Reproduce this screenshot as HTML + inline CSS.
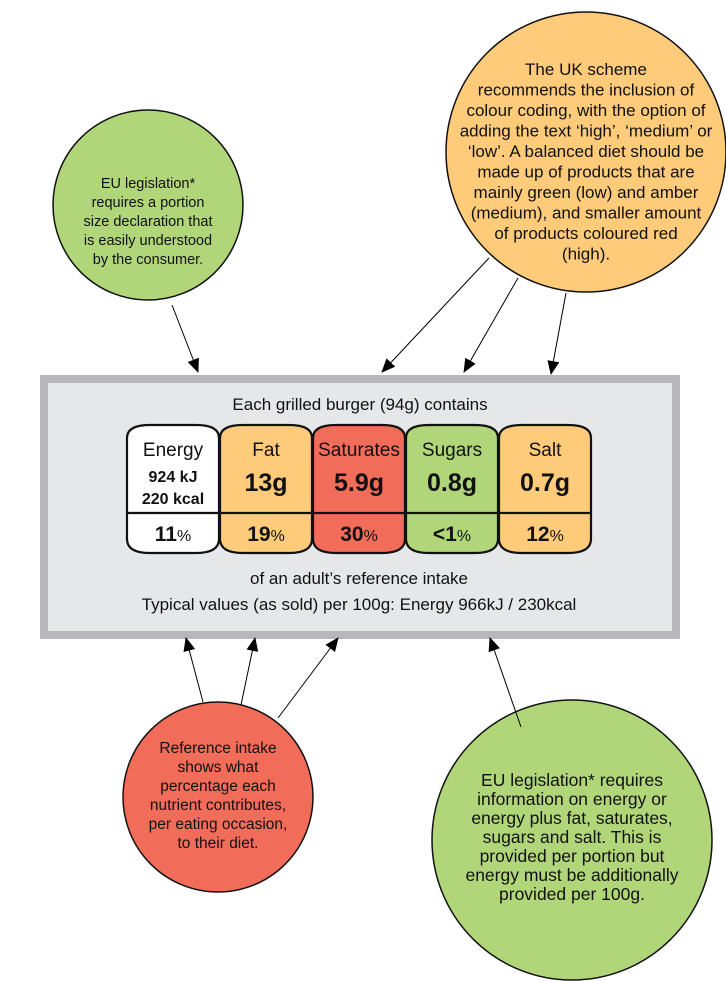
<!DOCTYPE html>
<html><head><meta charset="utf-8"><style>
body{margin:0;background:#fff;width:726px;height:981px;overflow:hidden}
svg{display:block}
.c{font-family:"Liberation Sans",sans-serif;font-size:14.5px;fill:#111;text-anchor:middle}
.l{font-family:"Liberation Sans",sans-serif;fill:#111;text-anchor:middle}
</style></head><body>
<svg width="726" height="981" viewBox="0 0 726 981" xmlns="http://www.w3.org/2000/svg">
<defs>
<marker id="b" markerWidth="14" markerHeight="12" refX="13" refY="6" orient="auto" markerUnits="userSpaceOnUse"><path d="M0,0 L14,6 L0,12 z" fill="#000"/></marker></defs>
<circle cx="148" cy="205" r="95" fill="#b1d67a" stroke="#111" stroke-width="1.5"/>
<circle cx="586" cy="152" r="140" fill="#fdcb7a" stroke="#111" stroke-width="1.5"/>
<circle cx="218" cy="797" r="95" fill="#f26c5a" stroke="#111" stroke-width="1.5"/>
<circle cx="572" cy="840" r="140" fill="#b1d67a" stroke="#111" stroke-width="1.5"/>
<g class="c">
<text x="148" y="188">EU legislation*</text><text x="148" y="207">requires a portion</text><text x="148" y="226">size declaration that</text><text x="148" y="245">is easily understood</text><text x="148" y="264">by the consumer.</text>
</g>
<g class="c" style="font-size:17px">
<text x="586" y="75">The UK scheme</text><text x="586" y="95.5">recommends the inclusion of</text><text x="586" y="116">colour coding, with the option of</text><text x="586" y="136.5">adding the text ‘high’, ‘medium’ or</text><text x="586" y="157">‘low’. A balanced diet should be</text><text x="586" y="177.5">made up of products that are</text><text x="586" y="198">mainly green (low) and amber</text><text x="586" y="218.5">(medium), and smaller amount</text><text x="586" y="239">of products coloured red</text><text x="586" y="259.5">(high).</text>
</g>
<g class="c" style="font-size:15.5px">
<text x="218" y="753">Reference intake</text><text x="218" y="772">shows what</text><text x="218" y="791">percentage each</text><text x="218" y="810">nutrient contributes,</text><text x="218" y="829">per eating occasion,</text><text x="218" y="848">to their diet.</text>
</g>
<g class="c" style="font-size:17.5px">
<text x="572" y="786">EU legislation* requires</text><text x="572" y="805">information on energy or</text><text x="572" y="824">energy plus fat, saturates,</text><text x="572" y="843">sugars and salt. This is</text><text x="572" y="862">provided per portion but</text><text x="572" y="881">energy must be additionally</text><text x="572" y="900">provided per 100g.</text>
</g>
<rect x="44" y="379" width="632" height="256" fill="#e6e7e9" stroke="#b8b8bc" stroke-width="8"/>
<text class="l" x="360" y="410" font-size="17">Each grilled burger (94g) contains</text>
<g stroke="#111" stroke-width="2.2">
<path d="M127,438 Q127,425 150,425 L196,425 Q219,425 219,438 L219,539 Q219,553 196,553 L150,553 Q127,553 127,539 Z" fill="#fff"/>
<path d="M220,438 Q220,425 243,425 L289,425 Q312,425 312,438 L312,539 Q312,553 289,553 L243,553 Q220,553 220,539 Z" fill="#fdcb7a"/>
<path d="M313,438 Q313,425 336,425 L382,425 Q405,425 405,438 L405,539 Q405,553 382,553 L336,553 Q313,553 313,539 Z" fill="#f26c5a"/>
<path d="M406,438 Q406,425 429,425 L475,425 Q498,425 498,438 L498,539 Q498,553 475,553 L429,553 Q406,553 406,539 Z" fill="#b1d67a"/>
<path d="M499,438 Q499,425 522,425 L568,425 Q591,425 591,438 L591,539 Q591,553 568,553 L522,553 Q499,553 499,539 Z" fill="#fdcb7a"/>
<line x1="127" y1="513" x2="591" y2="513"/>
</g>
<g class="l" font-size="19">
<text x="173" y="456">Energy</text><text x="266" y="456">Fat</text><text x="359" y="456" textLength="82" lengthAdjust="spacingAndGlyphs">Saturates</text><text x="452" y="456">Sugars</text><text x="545" y="456">Salt</text>
</g>
<g class="l" font-weight="bold">
<text x="173" y="482" font-size="16">924 kJ</text><text x="173" y="504" font-size="16">220 kcal</text>
<text x="266" y="491" font-size="25">13g</text><text x="359" y="491" font-size="25">5.9g</text><text x="452" y="491" font-size="25">0.8g</text><text x="545" y="491" font-size="25">0.7g</text>
</g>
<g class="l" font-size="21">
<text x="173" y="541"><tspan font-weight="bold">11</tspan><tspan font-size="16">%</tspan></text>
<text x="266" y="541"><tspan font-weight="bold">19</tspan><tspan font-size="16">%</tspan></text>
<text x="359" y="541"><tspan font-weight="bold">30</tspan><tspan font-size="16">%</tspan></text>
<text x="452" y="541"><tspan font-weight="bold">&lt;1</tspan><tspan font-size="16">%</tspan></text>
<text x="545" y="541"><tspan font-weight="bold">12</tspan><tspan font-size="16">%</tspan></text>
</g>
<text class="l" x="359" y="584" font-size="17">of an adult’s reference intake</text>
<text class="l" x="359" y="610" font-size="17">Typical values (as sold) per 100g: Energy 966kJ / 230kcal</text>
<g stroke="#000" stroke-width="1" marker-end="url(#b)">
<line x1="172" y1="305" x2="198" y2="372"/>
<line x1="489" y1="258" x2="382" y2="372"/>
<line x1="518" y1="278" x2="464" y2="372"/>
<line x1="566" y1="293" x2="551" y2="374"/>
<line x1="203" y1="702" x2="186" y2="638"/>
<line x1="241" y1="705" x2="255" y2="638"/>
<line x1="278" y1="718" x2="338" y2="638"/>
<line x1="521" y1="727" x2="490" y2="638"/>
</g>
</svg>
</body></html>
